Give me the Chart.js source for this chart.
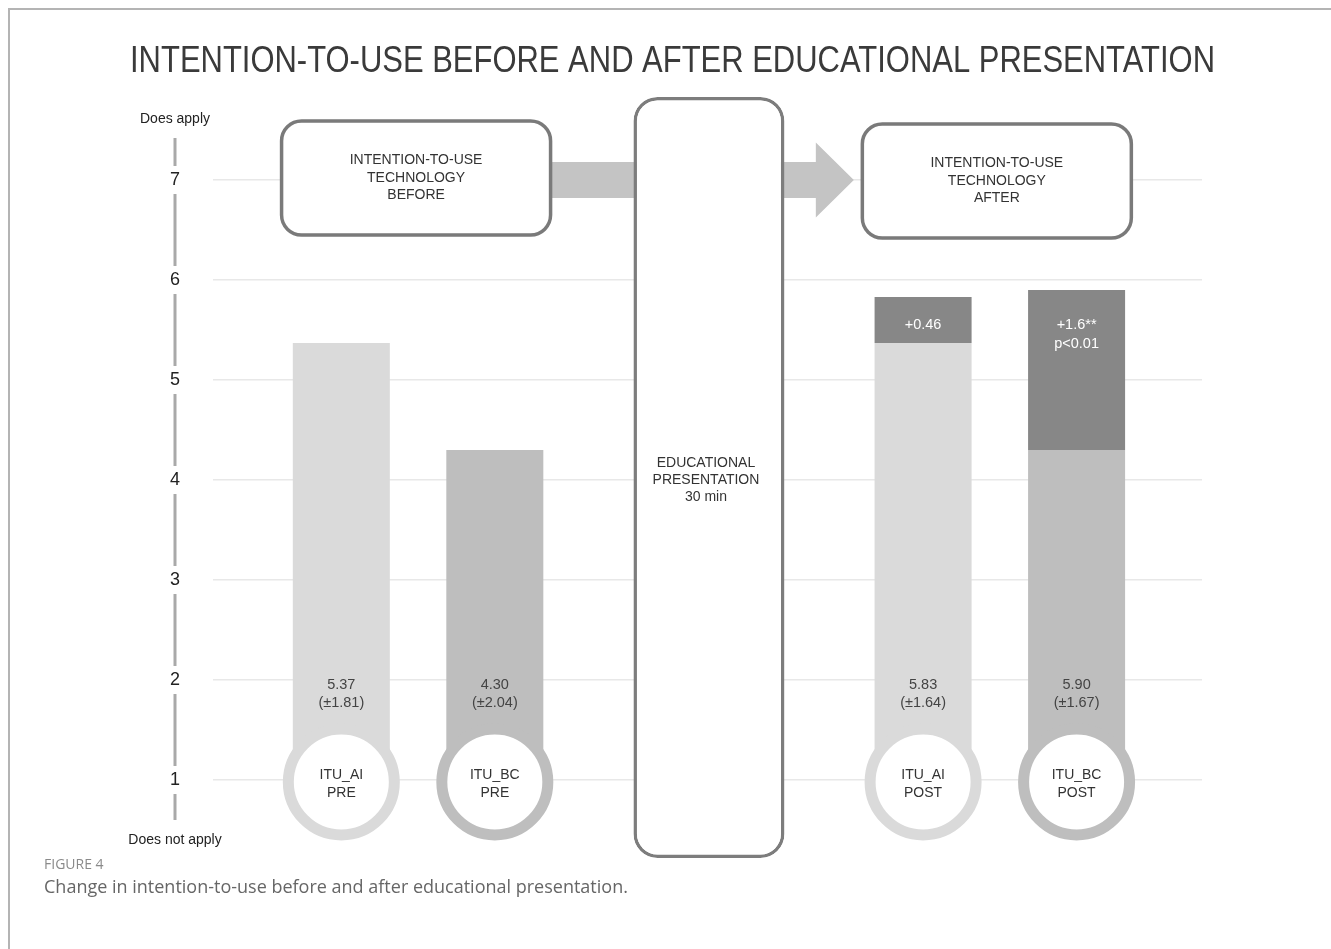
<!DOCTYPE html>
<html>
<head>
<meta charset="utf-8">
<script src="https://cdn.jsdelivr.net/npm/chart.js@4.4.1/dist/chart.umd.min.js"></script>
<style>
  html, body { margin: 0; padding: 0; background: #fff; }
  body { width: 1331px; height: 949px; overflow: hidden; position: relative; }
  #frame { position: absolute; left: 8px; top: 8px; right: 0; bottom: 0;
           border-top: 2px solid #b4b4b4; border-left: 2px solid #b4b4b4; }
  #c { position: absolute; left: 0; top: 0; }
  .cap { position: absolute; left: 44px; font-family: "Open Sans", Lato, sans-serif; white-space: nowrap; }
  #cap1 { top: 855px; font-size: 14px; line-height: 18px; color: #8a8a8a; }
  #cap2 { top: 874px; font-size: 18px; line-height: 24px; color: #666; }
</style>
</head>
<body>
<div id="frame"></div>
<canvas id="c" width="1331" height="949"></canvas>
<div class="cap" id="cap1">FIGURE 4</div>
<div class="cap" id="cap2">Change in intention-to-use before and after educational presentation.</div>
<script>
// ---------- data ----------
const TITLE = 'INTENTION-TO-USE BEFORE AND AFTER EDUCATIONAL PRESENTATION';
const phases = ['PRE', 'POST'];
const phaseX = [0, 2];            // PRE block, POST block
const presentationX = 1;          // presentation block
const groups = ['ITU_AI', 'ITU_BC'];
const aiMean = [5.37, 5.83];
const aiSD = [1.81, 1.64];
const bcMean = [4.30, 5.90];
const bcSD = [2.04, 1.67];
const gainText = [['+0.46'], ['+1.6**', 'p<0.01']];
const yTicks = [1, 2, 3, 4, 5, 6, 7];
const scaleTop = 'Does apply';
const scaleBottom = 'Does not apply';
const beforeBoxText = ['INTENTION-TO-USE', 'TECHNOLOGY', 'BEFORE'];
const afterBoxText = ['INTENTION-TO-USE', 'TECHNOLOGY', 'AFTER'];
const presentationText = ['EDUCATIONAL', 'PRESENTATION', '30 min'];
const barFloor = 1;
const presentationRange = [0.22, 7.83];

// ---------- styles ----------
const AI_COL = '#dadada', BC_COL = '#bebebe', GAIN_COL = '#878787';
const FONT = '"Liberation Sans", Arimo, Arial, sans-serif';

const datasets = [
  { label: 'ITU_AI', stack: 'ai', backgroundColor: AI_COL,
    data: phaseX.map(px => ({ x: px, y: [barFloor, aiMean[0]] })) },
  { label: 'ITU_AI gain', stack: 'ai', backgroundColor: GAIN_COL,
    data: [{ x: phaseX[1], y: [aiMean[0], aiMean[1]] }] },
  { label: 'ITU_BC', stack: 'bc', backgroundColor: BC_COL,
    data: phaseX.map(px => ({ x: px, y: [barFloor, bcMean[0]] })) },
  { label: 'ITU_BC gain', stack: 'bc', backgroundColor: GAIN_COL,
    data: [{ x: phaseX[1], y: [bcMean[0], bcMean[1]] }] },
  { label: 'Presentation', grouped: false, backgroundColor: '#ffffff',
    borderColor: '#7d7d7d', borderWidth: 3.5, borderRadius: 24, borderSkipped: false,
    categoryPercentage: 1, barPercentage: 0.519,
    data: [{ x: presentationX, y: presentationRange }] }
];

function rrect(ctx, x, y, w, h, r) {
  ctx.beginPath();
  ctx.moveTo(x + r, y);
  ctx.arcTo(x + w, y, x + w, y + h, r);
  ctx.arcTo(x + w, y + h, x, y + h, r);
  ctx.arcTo(x, y + h, x, y, r);
  ctx.arcTo(x, y, x + w, y, r);
  ctx.closePath();
}
function lines(ctx, arr, cx, cy, gap) {
  const n = arr.length;
  arr.forEach((t, i) => ctx.fillText(t, cx, cy + (i - (n - 1) / 2) * gap));
}

const decor = {
  id: 'decor',
  beforeDatasetsDraw(chart) {
    const { ctx, scales: { x, y } } = chart;
    const yc = y.getPixelForValue(7);
    const sh = 18, hh = 37.5;
    const x0 = x.getPixelForValue(phaseX[0]);
    const x1 = x.getPixelForValue(presentationX);
    const x2 = x.getPixelForValue(phaseX[1]);
    ctx.save();
    ctx.fillStyle = '#c4c4c4';
    ctx.fillRect(x0, yc - sh, x1 - x0, 2 * sh);
    const tip = x2 - 146, hb = tip - 38;
    ctx.beginPath();
    ctx.moveTo(x1, yc - sh);
    ctx.lineTo(hb, yc - sh); ctx.lineTo(hb, yc - hh); ctx.lineTo(tip, yc);
    ctx.lineTo(hb, yc + hh); ctx.lineTo(hb, yc + sh); ctx.lineTo(x1, yc + sh);
    ctx.closePath(); ctx.fill();
    ctx.restore();
  },
  afterDatasetsDraw(chart) {
    const { ctx, scales: { x, y } } = chart;
    ctx.save();
    ctx.textAlign = 'center';
    ctx.textBaseline = 'middle';
    // flow boxes
    const boxes = [[phaseX[0], [6.45, 7.59], beforeBoxText, -2], [phaseX[1], [6.42, 7.56], afterBoxText, -3]];
    boxes.forEach(([px, rng, txt, dx]) => {
      const cx = x.getPixelForValue(px) + dx;
      const top = y.getPixelForValue(rng[1]), bot = y.getPixelForValue(rng[0]);
      const w = 269;
      rrect(ctx, cx - w / 2, top, w, bot - top, 20);
      ctx.fillStyle = '#fff'; ctx.fill();
      ctx.lineWidth = 3.5; ctx.strokeStyle = '#7a7a7a'; ctx.stroke();
      ctx.fillStyle = '#333'; ctx.font = '14px ' + FONT;
      lines(ctx, txt, cx, (top + bot) / 2, 17.5);
    });
    // presentation text
    const pm = chart.getDatasetMeta(4).data[0];
    ctx.fillStyle = '#333'; ctx.font = '14px ' + FONT;
    lines(ctx, presentationText, pm.x - 3, y.getPixelForValue(4.0), 17);
    // rings and value labels
    const groupInfo = [[0, AI_COL, aiMean, aiSD], [2, BC_COL, bcMean, bcSD]];
    groupInfo.forEach(([di, col, means, sds], g) => {
      chart.getDatasetMeta(di).data.forEach((bar, i) => {
        const cy = y.getPixelForValue(0.98);
        ctx.beginPath();
        ctx.arc(bar.x, cy, 53, 0, Math.PI * 2);
        ctx.fillStyle = '#fff'; ctx.fill();
        ctx.lineWidth = 11; ctx.strokeStyle = col; ctx.stroke();
        ctx.fillStyle = '#333'; ctx.font = '14px ' + FONT;
        lines(ctx, [groups[g], phases[i]], bar.x, cy + 2, 18);
        ctx.fillStyle = '#444'; ctx.font = '14.5px ' + FONT;
        ctx.fillText(means[i].toFixed(2), bar.x, y.getPixelForValue(1.95));
        ctx.fillText('(\u00b1' + sds[i].toFixed(2) + ')', bar.x, y.getPixelForValue(1.77));
      });
    });
    // gain labels
    [1, 3].forEach((di, g) => {
      const bar = chart.getDatasetMeta(di).data[0];
      ctx.fillStyle = '#fff'; ctx.font = '14.5px ' + FONT;
      gainText[g].forEach((t, k) => ctx.fillText(t, bar.x, y.getPixelForValue(5.55) + k * 19));
    });
    ctx.restore();
  },
  afterDraw(chart) {
    const { ctx, scales: { y } } = chart;
    ctx.save();
    // title
    ctx.font = '36px "Liberation Sans Narrow", "Liberation Sans", Arial, sans-serif';
    ctx.fillStyle = '#3a3a3a';
    ctx.textBaseline = 'middle';
    ctx.textAlign = 'center';
    const tw = ctx.measureText(TITLE).width;
    const sx = 1085 / tw;
    ctx.translate(672.5, 62);
    ctx.scale(sx, 1);
    ctx.fillText(TITLE, 0, 0);
    ctx.restore();
    // scale line with gaps for labels
    ctx.save();
    const ax = y.right - 38;
    ctx.strokeStyle = '#a9a9a9'; ctx.lineWidth = 3;
    const gap = 14;
    const segs = [];
    const px = yTicks.slice().reverse().map(v => y.getPixelForValue(v));
    segs.push([y.getPixelForValue(7.42), px[0] - gap]);
    for (let i = 0; i < px.length - 1; i++) segs.push([px[i] + gap, px[i + 1] - gap]);
    segs.push([px[px.length - 1] + gap, y.getPixelForValue(0.6)]);
    ctx.beginPath();
    segs.forEach(([a, b]) => { ctx.moveTo(ax, a); ctx.lineTo(ax, b); });
    ctx.stroke();
    ctx.fillStyle = '#222'; ctx.font = '14px ' + FONT;
    ctx.textAlign = 'center'; ctx.textBaseline = 'middle';
    ctx.fillText(scaleTop, ax, y.getPixelForValue(7.61));
    ctx.fillText(scaleBottom, ax, y.getPixelForValue(0.6) + 20);
    ctx.restore();
  }
};

new Chart(document.getElementById('c'), {
  type: 'bar',
  data: { datasets },
  options: {
    responsive: false,
    animation: false,
    events: [],
    categoryPercentage: 1.0554,
    barPercentage: 0.632,
    layout: { padding: { left: 0, right: 129, top: 90, bottom: 89 } },
    plugins: { legend: { display: false }, tooltip: { enabled: false }, title: { display: false } },
    scales: {
      x: {
        type: 'linear', min: -0.705, max: 2.695, display: false, offset: false,
        afterBuildTicks: s => { s.ticks = [phaseX[0], presentationX, phaseX[1]].map(v => ({ value: v })); }
      },
      y: {
        type: 'linear', min: 0.2, max: 7.9, stacked: false,
        afterBuildTicks: s => { s.ticks = yTicks.map(v => ({ value: v })); },
        afterFit: s => { s.width = 213; },
        ticks: { padding: 33, crossAlign: 'center', color: '#222', font: { family: FONT, size: 18 } },
        grid: { color: '#e8e8e8', lineWidth: 1.5, drawTicks: false },
        border: { display: false }
      }
    }
  },
  plugins: [decor]
});
</script>
</body>
</html>
